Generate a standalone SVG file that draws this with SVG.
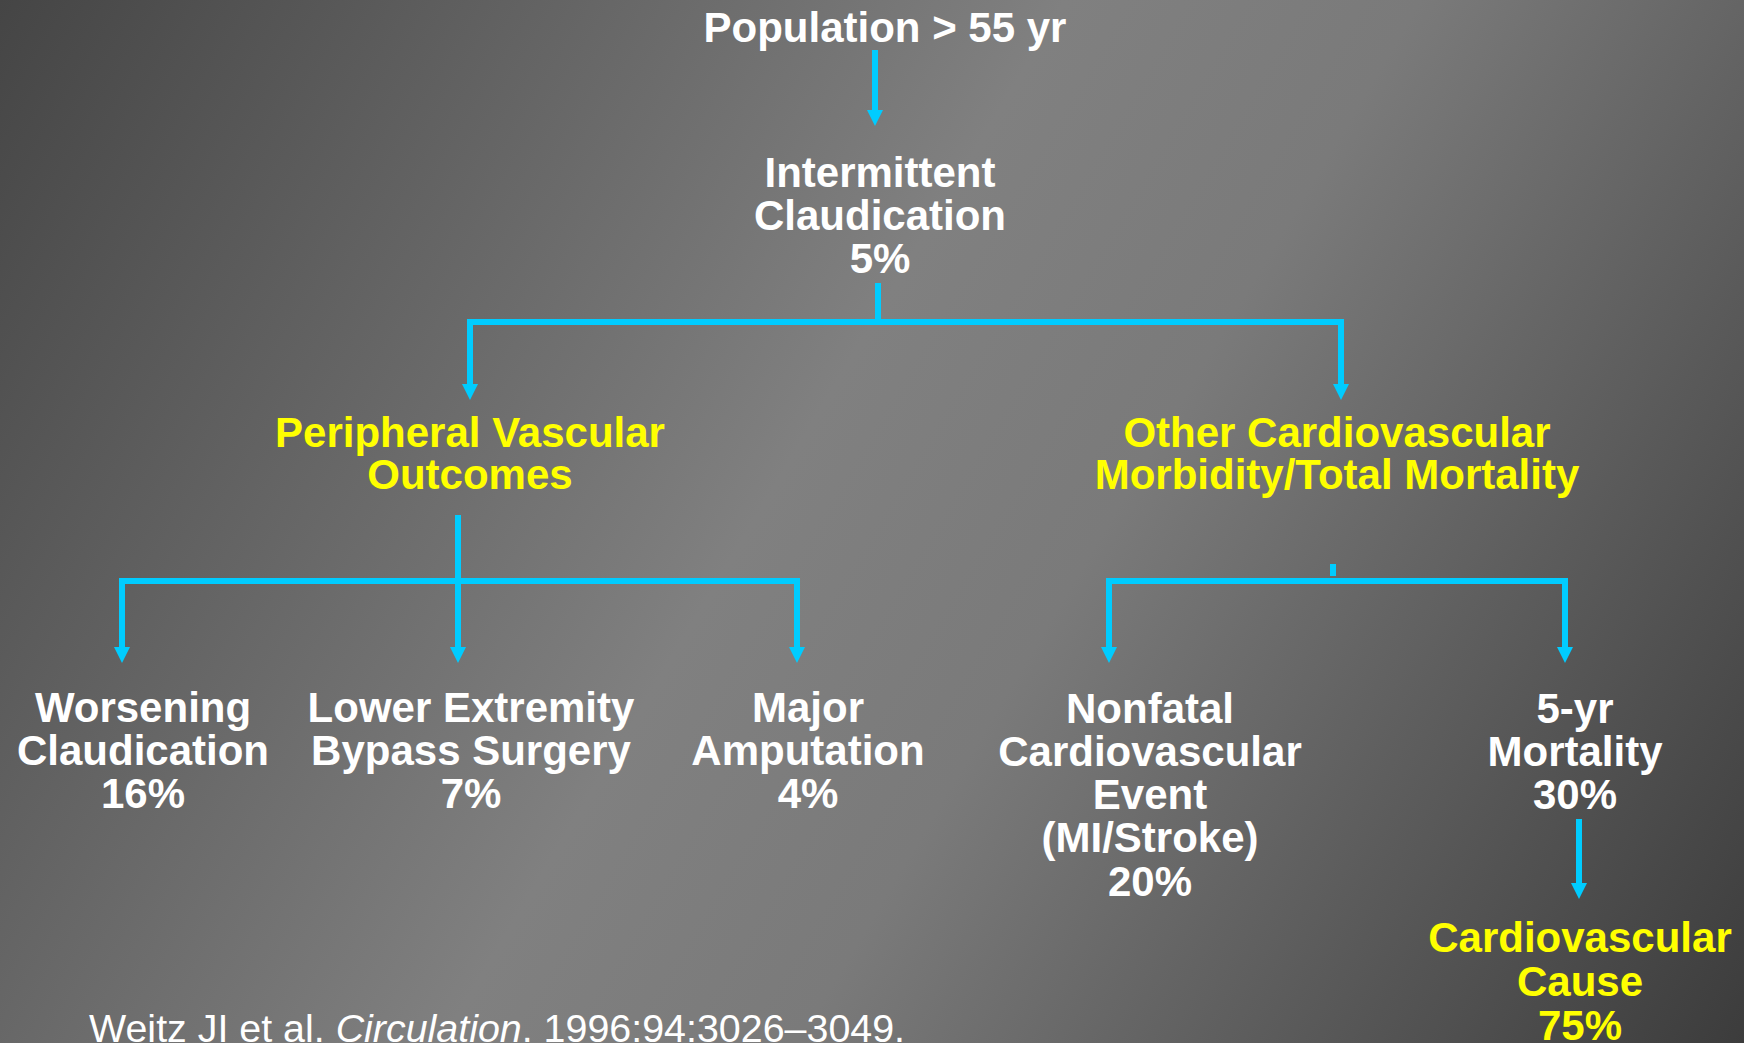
<svg xmlns="http://www.w3.org/2000/svg" width="1744" height="1043" viewBox="0 0 1744 1043">
<defs>
<linearGradient id="bg" gradientUnits="userSpaceOnUse" x1="0" y1="0" x2="1744" y2="1043">
<stop offset="0" stop-color="#454545"/>
<stop offset="0.45" stop-color="#808080"/>
<stop offset="0.6" stop-color="#7a7a7a"/>
<stop offset="1" stop-color="#3c3c3c"/>
</linearGradient>
<marker id="ah" viewBox="0 0 16 16" refX="8" refY="8" markerWidth="16" markerHeight="16" markerUnits="userSpaceOnUse" orient="auto">
<path d="M0,0 L16,8 L0,16 z" fill="#00CCFF"/>
</marker>
</defs>
<style>
.t{font-family:"Liberation Sans",Arial,sans-serif;font-weight:bold;font-size:42px;text-anchor:middle}
.w{fill:#FFFFFF}
.y{fill:#FFFF00}
.c{stroke:#00CCFF;stroke-width:6;fill:none}
.a{marker-end:url(#ah)}
.f{font-family:"Liberation Sans",Arial,sans-serif;font-size:39.4px;fill:#FFFFFF}
</style>
<rect x="0" y="0" width="1744" height="1043" fill="url(#bg)"/>
<g id="connectors">
<line class="c a" x1="875" y1="50" x2="875" y2="118"/>
<line class="c" x1="878" y1="283" x2="878" y2="322"/>
<line class="c" x1="467" y1="322" x2="1338" y2="322"/>
<line class="c a" x1="470" y1="319" x2="470" y2="392"/>
<line class="c a" x1="1341" y1="319" x2="1341" y2="392"/>
<line class="c" x1="458" y1="515" x2="458" y2="581"/>
<line class="c" x1="119" y1="581" x2="800" y2="581"/>
<line class="c a" x1="122" y1="578" x2="122" y2="655"/>
<line class="c a" x1="458" y1="578" x2="458" y2="655"/>
<line class="c a" x1="797" y1="578" x2="797" y2="655"/>
<line class="c" x1="1333" y1="564" x2="1333" y2="576"/>
<line class="c" x1="1106" y1="581" x2="1562" y2="581"/>
<line class="c a" x1="1109" y1="578" x2="1109" y2="655"/>
<line class="c a" x1="1565" y1="578" x2="1565" y2="655"/>
<line class="c a" x1="1579" y1="819" x2="1579" y2="891"/>
</g>
<g id="population"><text class="t w" x="885" y="42">Population &gt; 55 yr</text></g>
<g id="claudication"><text class="t w" x="880" y="187">Intermittent</text><text class="t w" x="880" y="230">Claudication</text><text class="t w" x="880" y="273">5%</text></g>
<g id="peripheral"><text class="t y" x="470" y="447">Peripheral Vascular</text><text class="t y" x="470" y="489">Outcomes</text></g>
<g id="other"><text class="t y" x="1337" y="447">Other Cardiovascular</text><text class="t y" x="1337" y="489">Morbidity/Total Mortality</text></g>
<g id="worsening"><text class="t w" x="143" y="722">Worsening</text><text class="t w" x="143" y="765">Claudication</text><text class="t w" x="143" y="808">16%</text></g>
<g id="bypass"><text class="t w" x="471" y="722">Lower Extremity</text><text class="t w" x="471" y="765">Bypass Surgery</text><text class="t w" x="471" y="808">7%</text></g>
<g id="amputation"><text class="t w" x="808" y="722">Major</text><text class="t w" x="808" y="765">Amputation</text><text class="t w" x="808" y="808">4%</text></g>
<g id="nonfatal"><text class="t w" x="1150" y="723">Nonfatal</text><text class="t w" x="1150" y="766">Cardiovascular</text><text class="t w" x="1150" y="809">Event</text><text class="t w" x="1150" y="852">(MI/Stroke)</text><text class="t w" x="1150" y="896">20%</text></g>
<g id="mortality"><text class="t w" x="1575" y="723">5-yr</text><text class="t w" x="1575" y="766">Mortality</text><text class="t w" x="1575" y="809">30%</text></g>
<g id="cvcause"><text class="t y" x="1580" y="952">Cardiovascular</text><text class="t y" x="1580" y="996">Cause</text><text class="t y" x="1580" y="1040">75%</text></g>
<g id="citation"><text class="f" x="89" y="1042">Weitz JI et al. <tspan font-style="italic">Circulation</tspan>. 1996:94:3026–3049.</text></g>
</svg>
